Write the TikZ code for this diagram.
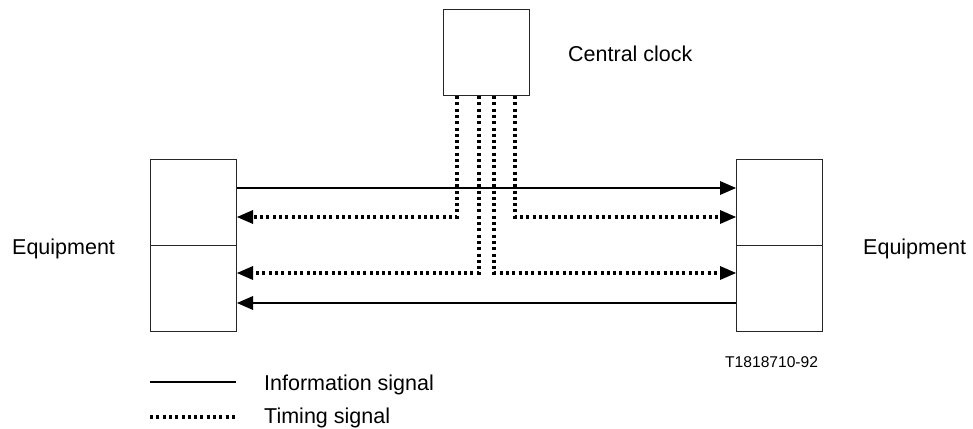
\documentclass[tikz,border=0pt]{standalone}
\usepackage{fontspec}
\setmainfont{Liberation Sans}
\usetikzlibrary{arrows.meta}
\begin{document}
\begin{tikzpicture}[x=1pt,y=-1pt,
  box/.style={draw=black!85,line width=1pt,minimum width=86pt,minimum height=86pt,inner sep=0pt,anchor=north west},
  clockbox/.style={draw=black!85,line width=1pt,minimum width=86pt,minimum height=86pt,inner sep=0pt,anchor=north west},
  info/.style={line width=2pt},
  timing/.style={line width=3.3pt,dash pattern=on 3pt off 3.3pt},
  tip/.style={-{Triangle[length=16pt,width=14pt,line width=0pt]}},
  lbl/.style={inner sep=0pt,anchor=base west,font=\fontsize{21.5}{26}\selectfont},
  small/.style={inner sep=0pt,anchor=base west,font=\fontsize{15.6}{19}\selectfont}]
\useasboundingbox (0,0) rectangle (973,428);
% boxes
\node[clockbox] (CL) at (443,9) {};
\node[box] (LU) at (150,159) {};
\node[box] (LL) at (150,245) {};
\node[box] (RU) at (736,159) {};
\node[box] (RL) at (736,245) {};
% texts
\node[lbl] (tcl) at (568,62) {Central clock};
\node[lbl] (teqL) at (12,254) {Equipment};
\node[lbl] (teqR) at (863,254) {Equipment};
\node[small] (tref) at (725,367) {T1818710-92};
\node[lbl] (tinfo) at (264,390) {Information signal};
\node[lbl] (ttim) at (264,423) {Timing signal};
% turning points
\coordinate (a1) at (457,217);
\coordinate (a2) at (479,273);
\coordinate (a3) at (494,273);
\coordinate (a4) at (515,217);
\coordinate (y1) at (0,188);
\coordinate (y4) at (0,303);
% information signals
\draw[info,tip] (LU.east |- y1) -- (RU.west |- y1);
\draw[info,tip] (RL.west |- y4) -- (LL.east |- y4);
% timing signals
\draw[timing,tip] (CL.south -| a1) -- (a1) -- (LU.east |- a1);
\draw[timing,tip] (CL.south -| a4) -- (a4) -- (RU.west |- a4);
\draw[timing,tip] (CL.south -| a2) -- (a2) -- (LL.east |- a2);
\draw[timing,tip] (CL.south -| a3) -- (a3) -- (RL.west |- a3);
% legend
\coordinate (l1a) at (150,382);
\coordinate (l1b) at (236,382);
\coordinate (l2a) at (150,417);
\coordinate (l2b) at (236,417);
\draw[info] (l1a) -- (l1b);
\draw[timing] (l2a) -- (l2b);
\end{tikzpicture}
\end{document}
